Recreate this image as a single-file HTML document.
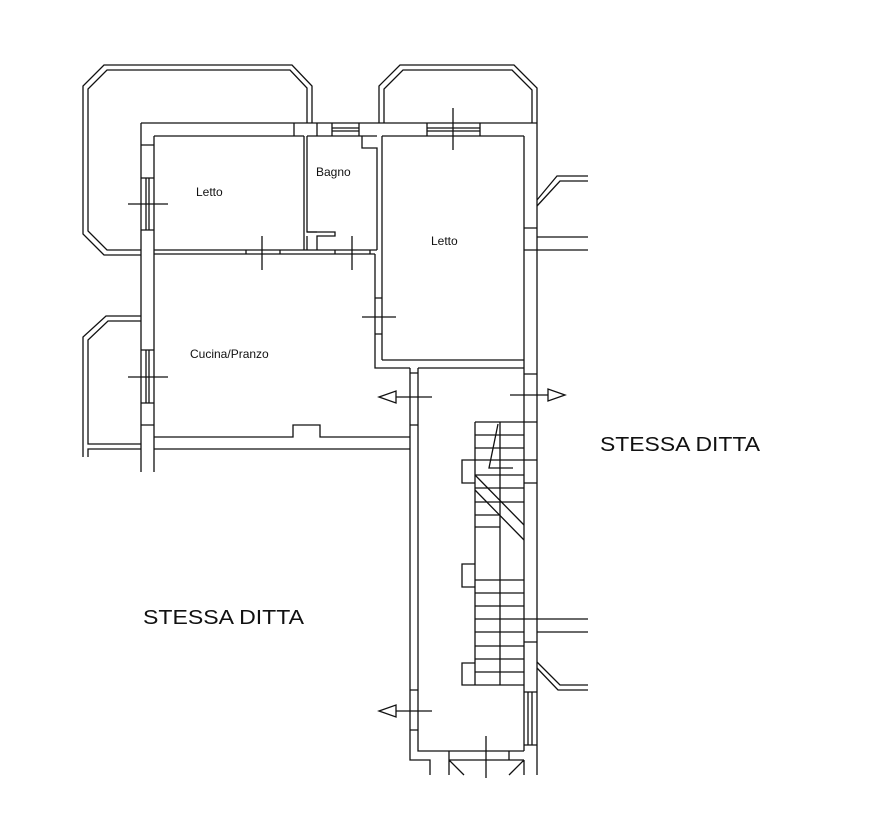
<!DOCTYPE html>
<html><head><style>html,body{margin:0;padding:0;background:#fff}svg{display:block}</style></head><body>
<svg width="874" height="823" viewBox="0 0 874 823" xmlns="http://www.w3.org/2000/svg">
<g fill="none" stroke="#111" stroke-width="1.3">
<!-- top-left balcony -->
<path d="M141,255 L104,255 L83,234 L83,86 L104,65 L292,65 L312,86 L312,123"/>
<path d="M141,250 L107,250 L88,231 L88,89 L107,70 L290,70 L307,88 L307,123"/>
<!-- top-right balcony -->
<path d="M379,123 L379,86 L400,65 L514,65 L537,88 L537,123"/>
<path d="M384,123 L384,89 L403,70 L512,70 L532,90 L532,123"/>
<!-- lower left balcony -->
<path d="M141,316 L106,316 L83,337 L83,457"/>
<path d="M141,321 L108,321 L88,340 L88,444 L141,444"/>
<path d="M88,457 L88,449 L141,449"/>
<!-- outer left wall -->
<path d="M141,123 L141,472"/>
<path d="M154,136 L154,472"/>
<path d="M141,145 L154,145 M141,178 L154,178 M141,230 L154,230 M141,350 L154,350 M141,403 L154,403 M141,425 L154,425"/>
<path d="M146,178 L146,230 M149,178 L149,230 M146,350 L146,403 M149,350 L149,403"/>
<!-- top wall -->
<path d="M141,123 L537,123"/>
<path d="M154,136 L304,136 M307,136 L377,136 M382,136 L524,136"/>
<path d="M294,123 L294,136 M317,123 L317,136 M332,123 L332,136 M359,123 L359,136 M427,123 L427,136 M480,123 L480,136"/>
<path d="M332,128 L359,128 M332,131 L359,131 M427,128 L480,128 M427,131 L480,131"/>
<!-- Bagno -->
<path d="M304,136 L304,250 M307,136 L307,232 L335,232 L335,236 L317,236 L317,250"/>
<path d="M307,232 L317,232 M307,250 L307,236"/>
<path d="M362,136 L362,148 L377,148 L377,250"/>
<path d="M382,136 L382,360"/>
<!-- wall Letto/Cucina -->
<path d="M154,250 L377,250 M154,254 L375,254"/>
<path d="M246,250 L246,254 M280,250 L280,254 M335,250 L335,254 M370,250 L370,254"/>
<!-- cucina right wall -->
<path d="M375,254 L375,368 L410,368"/>
<path d="M375,298 L382,298 M375,334 L382,334"/>
<path d="M382,360 L524,360"/>
<path d="M418,368 L524,368"/>
<!-- cucina bottom -->
<path d="M154,437 L293,437 L293,425 L320,425 L320,437 L410,437"/>
<path d="M154,449 L410,449"/>
<!-- corridor -->
<path d="M410,368 L410,760 L430,760 L430,775"/>
<path d="M418,368 L418,751 L524,751"/>
<path d="M410,373 L418,373 M410,425 L418,425 M410,690 L418,690 M410,730 L418,730"/>
<!-- right wall -->
<path d="M524,136 L524,751 M537,123 L537,775"/>
<path d="M524,228 L537,228 M524,374 L537,374 M524,483 L537,483 M524,642 L537,642 M524,692 L537,692 M524,745 L537,745"/>
<path d="M528,692 L528,745 M532,692 L532,745"/>
<!-- exterior stubs right -->
<path d="M537,200 L557,176 L588,176 M537,206 L560,181 L588,181"/>
<path d="M537,237 L588,237 M524,250 L588,250"/>
<path d="M524,619 L588,619 M537,632 L588,632"/>
<path d="M537,662 L560,685 L588,685 M537,668 L558,690 L588,690"/>
<!-- stairs -->
<path d="M475,422 L475,685 M500,422 L500,685 M475,422 L537,422"/>
<path d="M475,435 L524,435 M475,448 L524,448 M475,460 L537,460 M475,475 L524,475 M475,488 L524,488 M475,502 L524,502 M475,515 L500,515 M475,527 L500,527"/>
<path d="M475,580 L524,580 M475,593 L524,593 M475,606 L524,606 M475,619 L524,619 M475,632 L524,632 M475,646 L524,646 M475,659 L524,659 M475,672 L524,672 M475,685 L524,685"/>
<path d="M475,475 L524,525 M475,490 L524,540"/>
<path d="M498,424 L489,468 L513,468"/>
<path d="M475,460 L462,460 L462,483 L475,483 M475,564 L462,564 L462,587 L475,587 M475,663 L462,663 L462,685 L475,685"/>
<!-- bottom openings -->
<path d="M449,751 L449,760 M509,751 L509,760 M449,760 L524,760"/>
<path d="M449,760 L449,775 M449,760 L464,775 M524,760 L509,775 M524,760 L524,775"/>
<!-- crosses -->
<path d="M128,204 L168,204 M128,377 L168,377 M262,236 L262,270 M352,236 L352,270 M362,317 L396,317 M453,108 L453,150 M486,736 L486,778"/>
<!-- arrows -->
<path d="M396,397 L432,397 M510,395 L548,395 M396,711 L432,711"/>
<path d="M379,397 L396,391 L396,403 Z M565,395 L548,389 L548,401 Z M379,711 L396,705 L396,717 Z"/>
</g>
<g font-family="Liberation Sans, Arial, sans-serif" fill="#111">
<text x="196" y="196" font-size="12">Letto</text>
<text x="316" y="176" font-size="12">Bagno</text>
<text x="431" y="245" font-size="12">Letto</text>
<text x="190" y="358" font-size="12">Cucina/Pranzo</text>
<text x="600" y="451" font-size="20" textLength="160" lengthAdjust="spacingAndGlyphs">STESSA DITTA</text>
<text x="143" y="624" font-size="20" textLength="161" lengthAdjust="spacingAndGlyphs">STESSA DITTA</text>
</g>
</svg>
</body></html>
